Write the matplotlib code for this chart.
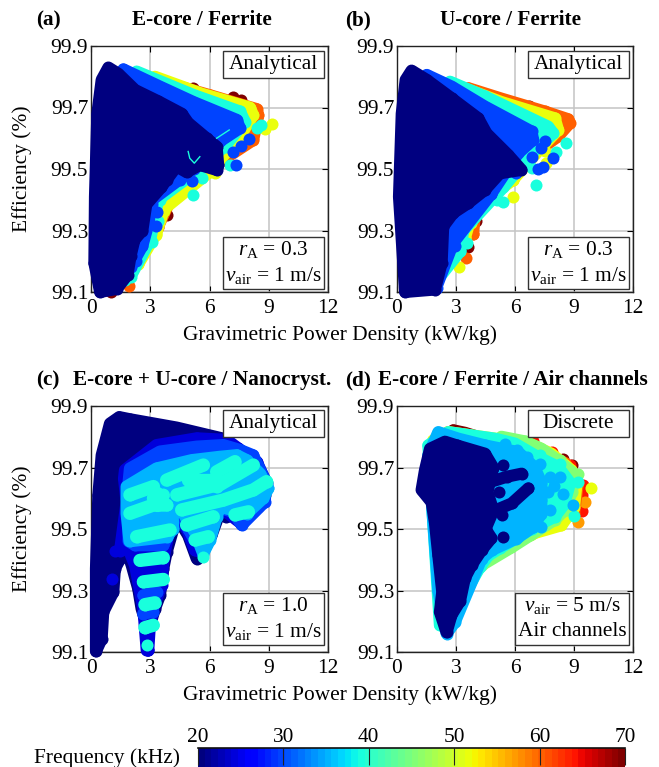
import matplotlib
matplotlib.use('Agg')
import numpy as np
import matplotlib.pyplot as plt
from matplotlib.patches import Rectangle, Polygon
from matplotlib.cm import ScalarMappable
from matplotlib.colors import Normalize

plt.rcParams['font.family'] = ['Liberation Serif', 'DejaVu Serif']
plt.rcParams['mathtext.fontset'] = 'custom'
plt.rcParams['mathtext.rm'] = 'Liberation Serif'
plt.rcParams['mathtext.it'] = 'Liberation Serif:italic'

W, H = 659, 767
FS = 15.4
MARKER_S = 75
STROKE = 8.7

x_ticks = [0, 3, 6, 9, 12]
y_ticks = [99.1, 99.3, 99.5, 99.7, 99.9]
cb_ticks = [20, 30, 40, 50, 60, 70]

# ---- panel (a): E-core / Ferrite ----
a_20 = [(0.88,99.83),(1.38,99.81),(2.23,99.757),(3.41,99.72),(4.59,99.68),(4.92,99.65),(5.85,99.60),(6.36,99.573),
        (6.44,99.513),(6.36,99.497),(5.51,99.513),(4.84,99.49),(4.33,99.508),(3.83,99.465),(3.55,99.44),(2.8,99.385),
        (2.6,99.30),(2.2,99.27),(2.0,99.216),(1.85,99.156),(1.3,99.11),(0.46,99.10),(0.17,99.194),(0.20,99.41),
        (0.32,99.68),(0.54,99.79)]
a_30 = [(1.64,99.824),(3.49,99.768),(5.18,99.718),(7.37,99.66),(7.54,99.633),(6.53,99.59),(5.2,99.5),(3.1,99.40),
        (2.9,99.32),(2.6,99.25),(2.0,99.18),(1.0,99.15)]
a_30_pts = [(7.2,99.555),(7.6,99.575),(8.0,99.598),(7.35,99.513),(5.1,99.46),(4.5,99.465),(4.2,99.475),
            (3.1,99.385),(3.35,99.36),(2.9,99.325),(3.3,99.315),(2.3,99.20)]
a_40 = [(2.31,99.817),(5.18,99.741),(7.54,99.687),(7.79,99.654),(6.86,99.58),(5.5,99.5),(3.4,99.40),(3.0,99.27),(2.0,99.15)]
a_40_pts = [(8.63,99.643),(8.38,99.633),(7.03,99.513),(5.18,99.414),(5.6,99.47),(3.49,99.40),(3.41,99.33),(3.07,99.264),
            (2.43,99.238),(1.72,99.14),(6.86,99.573)]
a_52 = [(3.24,99.80),(5.6,99.745),(8.04,99.70),(8.21,99.675),(7.54,99.606),(6.0,99.49),(3.7,99.37),(3.3,99.29),(2.39,99.19)]
a_52_pts = [(9.14,99.647),(8.8,99.63),(6.27,99.487),(3.69,99.364),(3.29,99.286),(2.39,99.19),(4.08,99.49)]
a_60 = [(3.49,99.786),(6.02,99.74),(8.38,99.695),(8.47,99.675),(8.21,99.594),(6.69,99.53),(4.25,99.43),(3.37,99.31)]
a_60_pts = [(1.94,99.118),(3.91,99.40),(3.37,99.31),(4.25,99.43),(6.69,99.53),(4.17,99.487)]
a_70_pts = [(5.18,99.765),(7.2,99.733),(7.62,99.725),(3.83,99.35),(4.25,99.434),(0.99,99.10),(6.73,99.532)]
a_gap1 = [(6.36,99.60),(7.0,99.627)]
a_gap2 = [(4.92,99.557),(5.0,99.535),(5.23,99.519),(5.51,99.54)]

# ---- panel (b): U-core / Ferrite ----
b_20 = [(0.74,99.82),(1.51,99.79),(2.78,99.73),(4.13,99.665),(4.55,99.616),(5.65,99.546),(6.33,99.497),(5.23,99.486),
        (4.47,99.432),(3.62,99.389),(2.86,99.357),(2.35,99.313),(2.27,99.194),(1.93,99.108),(0.41,99.10),(0.10,99.41),
        (0.24,99.68),(0.44,99.79)]
b_30 = [(1.51,99.806),(2.78,99.768),(4.47,99.703),(6.84,99.622),(6.92,99.595),(6.16,99.551),(4.8,99.42),(2.86,99.26),(2.0,99.115)]
b_30_pts = [(7.51,99.59),(7.34,99.568),(6.84,99.54),(7.94,99.535),(7.17,99.50),(7.43,99.506),(2.94,99.248),(4.8,99.42),
            (2.01,99.113),(6.07,99.486)]
b_40 = [(2.69,99.784),(4.47,99.736),(7.68,99.638),(7.94,99.616),(6.84,99.55),(5.4,99.44),(3.37,99.30),(3.2,99.232),(2.0,99.135)]
b_40_pts = [(8.61,99.586),(8.1,99.554),(7.09,99.449),(5.4,99.394),(5.06,99.40),(5.31,99.443),(3.37,99.302),(3.2,99.232),
            (3.54,99.26),(2.01,99.135),(6.84,99.503)]
b_52 = [(3.2,99.768),(5.3,99.718),(8.02,99.665),(8.19,99.627),(7.34,99.57),(5.9,99.465),(3.87,99.367),(3.45,99.275)]
b_52_pts = [(3.15,99.181),(5.9,99.41),(5.9,99.465),(3.76,99.324),(3.45,99.275),(3.87,99.367),(7.6,99.519),(7.51,99.557)]
b_60 = [(3.62,99.763),(5.31,99.729),(7.51,99.687),(8.70,99.662),(8.78,99.649),(8.19,99.606),(6.41,99.524),(4.04,99.405),(3.87,99.29)]
b_60_pts = [(3.49,99.21),(3.87,99.29),(3.92,99.362),(4.04,99.405),(6.41,99.524)]
b_70_pts = [(6.33,99.708),(6.7,99.704),(7.0,99.696),(4.04,99.332),(3.62,99.245),(4.21,99.40),(5.82,99.557)]

# ---- panel (c): E-core + U-core / Nanocryst. ----
c_20 = [(1.43,99.864),(1.97,99.857),(4.33,99.83),(6.69,99.794),(6.95,99.767),(7.88,99.734),(8.55,99.664),(8.80,99.609),
        (8.47,99.572),(6.86,99.539),(6.53,99.555),(6.10,99.479),(5.60,99.414),(5.35,99.404),(4.92,99.479),(4.50,99.523),
        (4.25,99.572),(4.17,99.501),(3.83,99.425),(3.66,99.371),(3.49,99.284),(3.24,99.241),(2.98,99.187),
        (2.82,99.187),(2.56,99.241),(2.39,99.306),(2.06,99.382),(1.89,99.414),(1.72,99.431),(1.21,99.371),(1.13,99.295),
        (0.62,99.23),(0.54,99.143),(0.25,99.102),(0.25,99.371),(0.37,99.609),(0.54,99.74),(0.96,99.843)]
c_24 = [(1.72,99.692),(3.32,99.773),(5.35,99.795),(6.87,99.79),(7.46,99.762),(8.39,99.719),(8.89,99.649),(8.72,99.59),
        (7.62,99.517),(6.86,99.555),(6.36,99.555),(6.02,99.479),(5.60,99.425),(5.26,99.431),(4.92,99.49),(4.50,99.534),
        (4.17,99.577),(3.91,99.479),(3.66,99.398),(3.58,99.317),(3.24,99.26),(2.98,99.187),(2.90,99.105),(2.82,99.105),
        (2.65,99.241),(2.39,99.328),(2.23,99.382),(1.89,99.436),(1.47,99.43),(1.80,99.588),(1.67,99.664)]
c_24_pts = [(1.21,99.43),(1.06,99.336),(2.90,99.105)]
c_30 = [(1.97,99.697),(3.49,99.752),(5.35,99.768),(6.70,99.773),(7.55,99.757),(8.20,99.74),(8.81,99.66),(8.81,99.589),
        (7.63,99.513),(7.20,99.555),(6.36,99.572),(6.02,99.49),(5.60,99.452),(5.26,99.463),(4.92,99.501),(4.50,99.561),(4.08,99.60),
        (3.91,99.479),(3.66,99.447),(2.23,99.447),(1.90,99.46),(1.85,99.62)]
c_30_l1 = [(2.65,99.284),(3.32,99.295)]
c_30_l2 = [(2.65,99.225),(3.15,99.23)]
c_35 = [(1.80,99.638),(3.32,99.697),(5.10,99.724),(6.53,99.735),(7.38,99.74),(7.88,99.724),(8.56,99.68),(8.98,99.632),(8.72,99.60),
        (7.88,99.55),(6.53,99.572),(6.36,99.539),(6.02,99.463),(5.68,99.42),(5.26,99.49),(4.92,99.523),(4.50,99.572),(4.08,99.615),
        (4.17,99.501),(3.83,99.474),(1.95,99.46),(1.80,99.55)]
c_40_rows = [
    ([2.85],[99.122]),
    ([2.73,3.15],[99.179,99.187]),
    ([2.73,3.24],[99.254,99.26]),
    ([2.65,3.66],[99.328,99.336]),
    ([2.48,3.66],[99.398,99.407]),
    ([2.31,4.0],[99.475,99.497]),
    ([1.97,3.16,3.83],[99.551,99.578,99.578]),
    ([3.32,3.32],[99.616,99.578]),
    ([3.16,3.66],[99.60,99.61]),
    ([1.97,3.16],[99.611,99.638]),
    ([3.83,5.69],[99.659,99.708]),
    ([4.93,6.36],[99.659,99.659]),
    ([6.36,7.29],[99.686,99.719]),
    ([6.36,8.22],[99.638,99.708]),
    ([4.34,6.36],[99.611,99.643]),
    ([4.59,6.70,8.22,8.89],[99.562,99.594,99.627,99.654]),
    ([4.84,6.19],[99.513,99.54]),
    ([5.27,5.94],[99.464,99.475]),
    ([5.68],[99.409]),
    ([7.29,7.97],[99.546,99.556]),
]

# ---- panel (d): E-core / Ferrite / Air channels ----
d_70_row = [(2.86,99.821),(3.45,99.813),(4.30,99.796)]
d_70_pts = [(8.46,99.729),(8.88,99.708),(3.0,99.82),(3.8,99.805)]
d_65_pts = [(9.47,99.643),(9.39,99.61),(8.80,99.708),(7.86,99.751),(6.93,99.787),(3.6,99.80),(9.4,99.56)]
d_60 = [(1.68,99.756),(2.61,99.815),(4.47,99.79),(6.84,99.765),(8.53,99.715),(9.2,99.65),(9.0,99.55),(7.01,99.49),
        (4.81,99.43),(4.13,99.39),(3.54,99.32),(3.28,99.29),(2.44,99.306),(2.10,99.36)]
d_58_pts = [(9.56,99.588),(9.22,99.523)]
d_52 = [(1.84,99.788),(2.61,99.815),(4.97,99.794),(6.67,99.778),(7.85,99.745),(8.87,99.691),(9.12,99.642),(9.0,99.57),(8.36,99.512),
        (6.84,99.484),(4.81,99.42),(4.13,99.387),(3.45,99.323)]
d_52_pts = [(9.86,99.632),(8.03,99.512),(8.46,99.534),(7.27,99.762),(6.76,99.48)]
d_45 = [(5.31,99.80),(6.50,99.785),(7.34,99.761),(8.19,99.723),(9.0,99.68),(8.9,99.62),(8.5,99.56),(8.02,99.53),(5.82,99.44),
        (4.30,99.382),(3.45,99.312),(2.77,99.20),(2.10,99.36)]
d_45_pts = [(9.22,99.68),(8.37,99.561),(8.29,99.724),(7.27,99.756),(6.08,99.784),(6.76,99.48),(5.75,99.442)]
d_40 = [(1.59,99.772),(2.61,99.815),(4.97,99.794),(5.99,99.778),(7.17,99.734),(8.19,99.702),(8.8,99.65),(8.5,99.58),(8.02,99.54),
        (6.84,99.501),(4.64,99.414),(4.21,99.376),(2.94,99.23),(2.69,99.18),(2.18,99.187)]
d_40_pts = [(9.22,99.653),(9.02,99.543),(8.29,99.713),(7.27,99.74),(6.34,99.496),(5.24,99.437),(7.61,99.615)]
d_35 = [(2.10,99.815),(3.11,99.794),(4.47,99.772),(6.16,99.75),(7.0,99.70),(7.34,99.65),(7.34,99.55),(6.92,99.506),(6.07,99.469),
        (4.81,99.431),(4.30,99.404),(2.94,99.197),(2.52,99.16),(2.10,99.30),(1.59,99.74)]
d_35_pts = [(5.49,99.778),(6.08,99.756),(6.59,99.735),(7.27,99.713),(8.29,99.67),(8.46,99.615),(8.97,99.578),(7.34,99.594),
            (7.78,99.561),(7.34,99.507),(6.93,99.507),(6.17,99.475),(7.78,99.67),(8.0,99.64),(7.7,99.62)]
d_20 = [(2.44,99.784),(3.03,99.772),(4.47,99.745),(4.89,99.70),(4.6,99.62),(4.9,99.56),(4.5,99.50),(4.8,99.47),(4.30,99.431),(3.79,99.382),
        (3.45,99.34),(3.20,99.265),(2.77,99.22),(2.52,99.164),(2.18,99.23),(2.30,99.295),(2.10,99.414),(1.93,99.52),(1.76,99.587),
        (1.25,99.627),(1.42,99.691),(1.68,99.761)]
d_20_pts = [(5.41,99.708),(5.32,99.545),(5.41,99.475),(5.2,99.62)]
d_20_arm1 = [(4.6,99.65),(5.58,99.67),(6.34,99.68)]
d_20_arm2 = [(4.6,99.55),(5.83,99.583),(6.68,99.632)]

cmap = plt.get_cmap('jet', 64)
norm = Normalize(20, 70)
CYAN = 39.2


def layer(ax, pts, freq, z, extra=()):
    xs = [p[0] for p in pts]
    ys = [p[1] for p in pts]
    c = cmap(norm(freq))
    ax.add_patch(Polygon(np.column_stack([xs, ys]), closed=True, facecolor=c, edgecolor=c, linewidth=STROKE,
                         joinstyle='round', capstyle='round', clip_on=False, zorder=z))
    ax.scatter(xs, ys, s=MARKER_S, color=c, linewidths=0, clip_on=False, zorder=z)
    if len(extra):
        dots(ax, extra, freq, z)


def dots(ax, pts, freq, z):
    ax.scatter([p[0] for p in pts], [p[1] for p in pts], s=MARKER_S, color=cmap(norm(freq)),
               linewidths=0, clip_on=False, zorder=z)


def row(ax, xs, ys, freq, z, lw=STROKE):
    c = cmap(norm(freq))
    ax.plot(xs, ys, color=c, lw=lw, solid_capstyle='round', clip_on=False, zorder=z)
    ax.scatter(xs, ys, s=MARKER_S, color=c, linewidths=0, clip_on=False, zorder=z)


def make_axes(left, top, right, bottom):
    ax = fig.add_axes([left / W, 1 - bottom / H, (right - left) / W, (bottom - top) / H])
    ax.set_xticks(x_ticks)
    ax.set_yticks(y_ticks)
    ax.set_yticklabels([f'{v:.1f}' for v in y_ticks])
    ax.set_xlim(0, 12)
    ax.set_ylim(99.1, 99.9)
    ax.tick_params(direction='in', top=True, right=True, length=4, width=0.8, labelsize=FS, zorder=2.5)
    ax.tick_params(axis='x', pad=5)
    ax.tick_params(axis='y', pad=2)
    ax.grid(True, color='#c4c4c4', lw=1.1)
    ax.set_axisbelow(True)
    for s in ax.spines.values():
        s.set_linewidth(1.0)
        s.set_color('#222222')
    return ax


def box(ax, x0, y0, x1, y1, lines):
    ax.add_patch(Rectangle((x0, y0), x1 - x0, y1 - y0, transform=ax.transAxes, facecolor='white',
                           edgecolor='#333333', lw=1.0, zorder=6, clip_on=False))
    n = len(lines)
    for i, t in enumerate(lines):
        yc = y1 - (y1 - y0) * (i + 0.5) / n
        ax.text((x0 + x1) / 2, yc, t, transform=ax.transAxes, ha='center', va='center', fontsize=FS, zorder=7)


def fig_text(px, py, s, **kw):
    fig.text(px / W, 1 - py / H, s, **kw)


fig = plt.figure(figsize=(W / 100, H / 100), dpi=100)

ax_a = make_axes(91, 46, 328, 292)
ax_b = make_axes(397, 46, 633, 292)
ax_c = make_axes(91, 406, 328, 652)
ax_d = make_axes(397, 406, 633, 652)

# panel a
dots(ax_a, a_70_pts, 70, 3.0)
layer(ax_a, a_60, 60, 3.1, a_60_pts)
layer(ax_a, a_52, 52, 3.2, a_52_pts)
layer(ax_a, a_40, CYAN, 3.3, a_40_pts)
layer(ax_a, a_30, 30, 3.4, a_30_pts)
layer(ax_a, a_20, 20, 3.5)
for gap in (a_gap1, a_gap2):
    ax_a.plot([p[0] for p in gap], [p[1] for p in gap], color=cmap(norm(CYAN)), lw=1.0, zorder=3.6)

# panel b
dots(ax_b, b_70_pts, 70, 3.0)
layer(ax_b, b_60, 60, 3.1, b_60_pts)
layer(ax_b, b_52, 52, 3.2, b_52_pts)
layer(ax_b, b_40, CYAN, 3.3, b_40_pts)
layer(ax_b, b_30, 30, 3.4, b_30_pts)
layer(ax_b, b_20, 20, 3.5)

# panel c
layer(ax_c, c_20, 20, 3.0)
layer(ax_c, c_24, 24, 3.1, c_24_pts)
layer(ax_c, c_30, 30, 3.2)
row(ax_c, [p[0] for p in c_30_l1], [p[1] for p in c_30_l1], 30, 3.2)
row(ax_c, [p[0] for p in c_30_l2], [p[1] for p in c_30_l2], 30, 3.2)
layer(ax_c, c_35, 35, 3.3)
for xs, ys in c_40_rows:
    row(ax_c, xs, ys, CYAN, 3.4, lw=9.6)

# panel d
row(ax_d, [p[0] for p in d_70_row], [p[1] for p in d_70_row], 70, 3.0)
dots(ax_d, d_70_pts, 70, 3.0)
dots(ax_d, d_65_pts, 64, 3.05)
dots(ax_d, d_58_pts, 57, 3.07)
layer(ax_d, d_60, 60, 3.1)
layer(ax_d, d_52, 52, 3.2, d_52_pts)
layer(ax_d, d_45, 45, 3.3, d_45_pts)
layer(ax_d, d_40, CYAN, 3.4, d_40_pts)
layer(ax_d, d_35, 35, 3.5, d_35_pts)
layer(ax_d, d_20, 20, 3.6, d_20_pts)
row(ax_d, [p[0] for p in d_20_arm1], [p[1] for p in d_20_arm1], 20, 3.6)
row(ax_d, [p[0] for p in d_20_arm2], [p[1] for p in d_20_arm2], 20, 3.6)

# labels
fig_text(22, 169, 'Efficiency (%)', ha='center', va='center', rotation=90, fontsize=FS)
fig_text(22, 529, 'Efficiency (%)', ha='center', va='center', rotation=90, fontsize=FS)
fig_text(340, 335, 'Gravimetric Power Density (kW/kg)', ha='center', va='center', fontsize=FS)
fig_text(340, 695, 'Gravimetric Power Density (kW/kg)', ha='center', va='center', fontsize=FS)

# titles
tb = dict(fontweight='bold', fontsize=15.3, va='center')
fig_text(36, 20, '(a)', ha='left', **tb)
fig_text(202, 20, 'E-core / Ferrite', ha='center', **tb)
fig_text(345, 20, '(b)', ha='left', **tb)
fig_text(510, 20, 'U-core / Ferrite', ha='center', **tb)
fig_text(36, 380, '(c)', ha='left', **tb)
fig_text(202, 380, 'E-core + U-core / Nanocryst.', ha='center', **tb)
fig_text(345, 380, '(d)', ha='left', **tb)
fig_text(513, 380, 'E-core / Ferrite / Air channels', ha='center', **tb)

# boxes
ra03 = r'$r_{\mathrm{A}}$ = 0.3'
ra10 = r'$r_{\mathrm{A}}$ = 1.0'
v1 = r'$v_{\mathrm{air}}$ = 1 m/s'
v5 = r'$v_{\mathrm{air}}$ = 5 m/s'
box(ax_a, 0.556, 0.869, 0.984, 0.981, ['Analytical'])
box(ax_b, 0.555, 0.869, 0.983, 0.981, ['Analytical'])
box(ax_c, 0.556, 0.873, 0.984, 0.984, ['Analytical'])
box(ax_d, 0.555, 0.873, 0.984, 0.984, ['Discrete'])
box(ax_a, 0.556, 0.012, 0.984, 0.225, [ra03, v1])
box(ax_b, 0.555, 0.012, 0.983, 0.225, [ra03, v1])
box(ax_c, 0.556, 0.029, 0.984, 0.241, [ra10, v1])
box(ax_d, 0.50, 0.029, 0.983, 0.241, [v5, 'Air channels'])

# colour bar
cax = fig.add_axes([198 / W, 1 - 767 / H, (625 - 198) / W, (767 - 748) / H])
cb = fig.colorbar(ScalarMappable(norm=norm, cmap=cmap), cax=cax, orientation='horizontal', ticks=cb_ticks)
cb.ax.xaxis.set_ticks_position('top')
cb.ax.tick_params(direction='in', length=12, width=0.8, color='#222222', labelsize=FS, pad=1)
cb.outline.set_visible(False)
cax.plot([0, 1], [1, 1], transform=cax.transAxes, color='#111111', lw=1.2, clip_on=False)
fig_text(107, 758, 'Frequency (kHz)', ha='center', va='center', fontsize=FS)

fig.savefig('out.png', dpi=100)
